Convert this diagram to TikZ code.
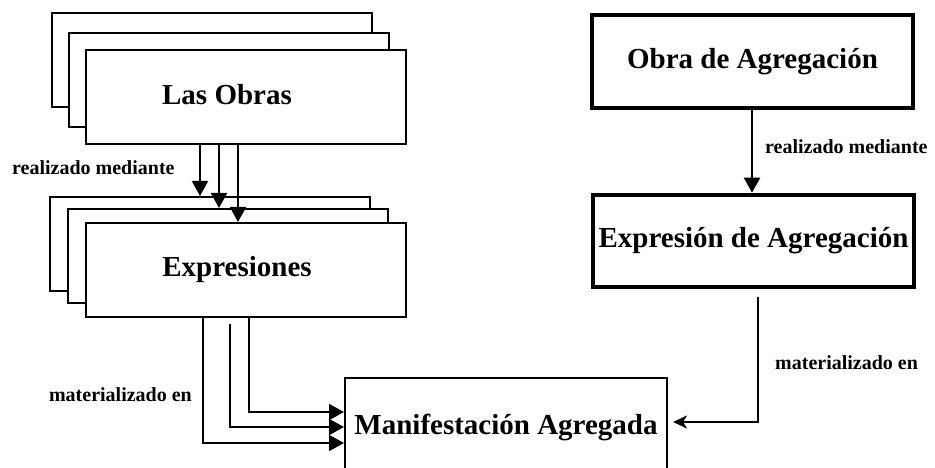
\documentclass[tikz,border=0pt]{standalone}
\usepackage{fontspec}
\setmainfont{Liberation Serif}
\usetikzlibrary{arrows.meta}
\tikzset{
  stackbox/.style={draw, fill=white, line width=2pt, minimum width=320pt, minimum height=94pt, inner sep=0pt},
  thickbox/.style={draw, fill=white, minimum width=321pt, minimum height=93pt, inner sep=0pt, font=\fontsize{29}{34}\selectfont\bfseries},
  titletext/.style={inner sep=0pt, font=\fontsize{29}{34}\selectfont\bfseries},
  lbl/.style={inner sep=0pt, font=\fontsize{20}{24}\selectfont\bfseries},
  arr/.style={line width=2pt, -{Triangle[length=15pt,width=16pt]}},
  arrs/.style={line width=2pt, -{Stealth[length=14pt,width=13pt,inset=4pt]}}
}
\begin{document}
\begin{tikzpicture}[x=1pt,y=-1pt]
\useasboundingbox (0,0) rectangle (935,468);
\clip (0,0) rectangle (935,468);
% Las Obras stack
\node[stackbox] (obB) at (212,60) {};
\node[stackbox] (obM) at (229,80) {};
\node[stackbox] (obF) at (246,97) {};
\node[titletext] (obT) at (227,95) {Las Obras};
% Expresiones stack
\node[stackbox] (exB) at (210,244) {};
\node[stackbox] (exM) at (228,256) {};
\node[stackbox] (exF) at (246,270) {};
\node[titletext] (exT) at (237,270) {Expresiones};
% arrows Las Obras -> Expresiones
\draw[arr] (obF.south -| 200,0) -- (exB.north -| 200,0);
\draw[arr] (obF.south -| 219,0) -- (exM.north -| 219,0);
\draw[arr] (obF.south -| 238,0) -- (exF.north -| 238,0);
\node[lbl, anchor=west] (l1) at (12,168) {realizado mediante};
% Manifestacion
\node[draw, fill=white, line width=2pt, minimum width=322pt, minimum height=98pt, inner sep=0pt, font=\fontsize{29}{34}\selectfont\bfseries] (man) at (506,427) {Manifestación Agregada};
% arrows Expresiones -> Manifestacion
\draw[arr] (exF.south -| 203,0) |- (man.west |- 0,443);
\draw[arr] ([yshift=-6pt]exF.south -| 230,0) |- (man.west |- 0,427);
\draw[arr] (exF.south -| 249,0) |- (man.west |- 0,412);
\node[lbl, anchor=east] (l2) at (192,395) {materializado en};
% right side
\node[thickbox, line width=3.5pt] (oa) at (752.5,61.5) {Obra de Agregación};
\node[thickbox, line width=4.5pt, minimum height=92pt] (ea) at (753.5,241) {Expresión de Agregación};
\draw[arr] (oa.south -| 752,0) -- (ea.north -| 752,0);
\node[lbl, anchor=west] (l3) at (765,147) {realizado mediante};
\draw[arrs] ([yshift=-8pt]ea.south -| 758,0) |- ([xshift=5pt]man.east |- 0,422);
\node[lbl, anchor=west] (l4) at (775,363) {materializado en};
\end{tikzpicture}
\end{document}
